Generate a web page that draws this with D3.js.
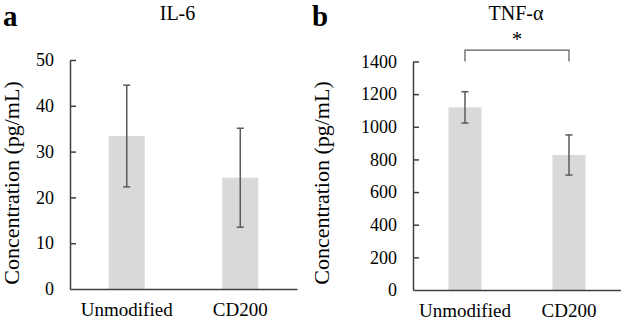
<!DOCTYPE html>
<html>
<head>
<meta charset="utf-8">
<script src="https://cdn.jsdelivr.net/npm/d3@7"></script>
<style>
  html, body { margin: 0; padding: 0; background: #fff; }
</style>
</head>
<body>
<div id="chart"></div>
<script>
// values
const categories = ["Unmodified", "CD200"];
const il6Mean = [33.4, 24.3];
const il6Err = [11.1, 10.8];
const il6Ticks = [0, 10, 20, 30, 40, 50];
const tnfMean = [1119, 827];
const tnfErr = [96, 123];
const tnfTicks = [0, 200, 400, 600, 800, 1000, 1200, 1400];
const tnfBracketTop = 1470; // significance bracket, in data units

const W = 621, H = 320;
const FONT = "Liberation Serif";
const svg = d3.select("#chart").append("svg")
    .attr("width", W).attr("height", H);

const axisColor = "#404040";
const errColor = "#5a5a5a";
const barColor = "#d9d9d9";

function label(g, x, y, size, txt) {
    return g.append("text").attr("x", x).attr("y", y)
        .attr("font-family", FONT).attr("font-size", size)
        .attr("fill", "#000").text(txt);
}

function drawPanel(opt) {
    const g = svg.append("g");
    const x = d3.scaleBand().domain(categories).range(opt.xRange)
        .paddingInner(0.683).paddingOuter(0.3415);
    const y = d3.scaleLinear().domain([0, opt.max]).range(opt.yRange);

    // bars
    g.selectAll("rect.bar").data(opt.mean).join("rect")
        .attr("class", "bar")
        .attr("x", (d, i) => x(categories[i]))
        .attr("width", x.bandwidth())
        .attr("y", d => y(d))
        .attr("height", d => y(0) - y(d))
        .attr("fill", barColor);

    // error bars
    const cap = 3.5;
    const eb = g.selectAll("g.err").data(opt.mean).join("g").attr("class", "err")
        .attr("stroke", errColor).attr("stroke-width", 1.5);
    eb.append("line")
        .attr("x1", (d, i) => x(categories[i]) + x.bandwidth() / 2)
        .attr("x2", (d, i) => x(categories[i]) + x.bandwidth() / 2)
        .attr("y1", (d, i) => y(d + opt.err[i]))
        .attr("y2", (d, i) => y(d - opt.err[i]));
    [1, -1].forEach(s => {
        eb.append("line")
            .attr("x1", (d, i) => x(categories[i]) + x.bandwidth() / 2 - cap)
            .attr("x2", (d, i) => x(categories[i]) + x.bandwidth() / 2 + cap)
            .attr("y1", (d, i) => y(d + s * opt.err[i]))
            .attr("y2", (d, i) => y(d + s * opt.err[i]));
    });

    // y axis, ticks pointing inward
    const ya = g.append("g")
        .attr("transform", `translate(${opt.xRange[0]},0)`)
        .call(d3.axisLeft(y).tickValues(opt.ticks).tickFormat(d3.format("d"))
            .tickSizeInner(-6).tickSizeOuter(0).tickPadding(16));
    ya.selectAll("path, line").attr("stroke", axisColor).attr("stroke-width", 1.5);
    ya.selectAll(".tick line").filter(d => d === 0).remove();
    ya.selectAll("text").attr("fill", "#000")
        .attr("font-family", FONT).attr("font-size", 18);

    // x axis
    const xa = g.append("g")
        .attr("transform", `translate(0,${y(0)})`)
        .call(d3.axisBottom(x).tickSize(0).tickPadding(14));
    xa.select("path").attr("stroke", axisColor).attr("stroke-width", 1.5);
    xa.selectAll("text").attr("fill", "#000")
        .attr("font-family", FONT).attr("font-size", 19);

    // y axis label
    label(g, 0, 0, 22, "Concentration (pg/mL)")
        .attr("transform", `translate(${opt.labelX},${opt.labelY}) rotate(-90)`)
        .attr("text-anchor", "middle");

    // panel title and letter
    label(g, opt.titleX, 20, 20, opt.title).attr("text-anchor", "middle");
    label(g, opt.letterX, 26, 29, opt.letter).attr("font-weight", "bold");

    return { g, x, y };
}

drawPanel({
    mean: il6Mean, err: il6Err, ticks: il6Ticks, max: 50,
    xRange: [70, 297], yRange: [289, 60],
    labelX: 19, labelY: 183, title: "IL-6", titleX: 177.5,
    letter: "a", letterX: 3
});

const pb = drawPanel({
    mean: tnfMean, err: tnfErr, ticks: tnfTicks, max: 1400,
    xRange: [413, 621], yRange: [290, 61.5],
    labelX: 329, labelY: 183, title: "TNF-α", titleX: 516,
    letter: "b", letterX: 312
});

// significance bracket
const bx0 = pb.x(categories[0]) + pb.x.bandwidth() / 2;
const bx1 = pb.x(categories[1]) + pb.x.bandwidth() / 2;
pb.g.append("path")
    .attr("d", `M${bx0},${pb.y(1400)}V${pb.y(tnfBracketTop)}H${bx1}V${pb.y(1400)}`)
    .attr("fill", "none").attr("stroke", errColor).attr("stroke-width", 1.2);
label(pb.g, (bx0 + bx1) / 2, 46, 21, "*").attr("text-anchor", "middle");
</script>
</body>
</html>
